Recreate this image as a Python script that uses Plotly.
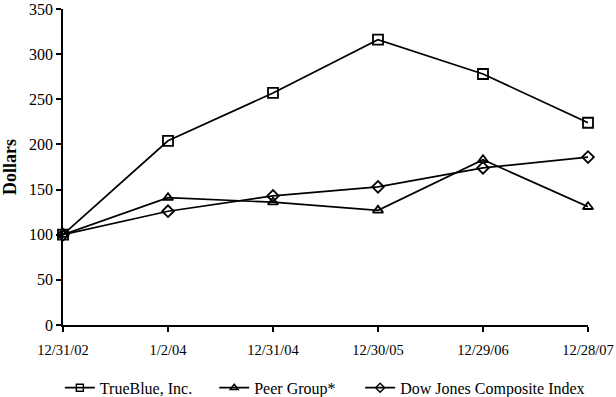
import plotly.graph_objects as go

dates = ["12/31/02", "1/2/04", "12/31/04", "12/30/05", "12/29/06", "12/28/07"]
trueblue = [100, 204, 257, 316, 278, 224]
peer = [100, 141, 136, 127, 183, 131]
dowjones = [100, 126, 143, 153, 174, 186]
yticks = [0, 50, 100, 150, 200, 250, 300, 350]

xs = list(range(len(dates)))
fam = "Liberation Serif, Times New Roman, serif"
font = dict(family=fam, color="black", size=14)

fig = go.Figure()
series = [
    ("TrueBlue, Inc.", trueblue, "square-open", 10, "legend"),
    ("Peer Group*", peer, "triangle-up-open", 9, "legend2"),
    ("Dow Jones Composite Index", dowjones, "diamond-open", 9, "legend3"),
]
for name, vals, sym, sz, lg in series:
    fig.add_trace(go.Scatter(
        x=xs, y=vals, name=name, mode="lines+markers", showlegend=False,
        line=dict(color="black", width=1.7),
        marker=dict(symbol=sym, size=sz, color="black", line=dict(width=1.8, color="black")),
        cliponaxis=False, hoverinfo="skip",
    ))
# legend entries with smaller symbols, each in its own positioned legend
for name, vals, sym, sz, lg in series:
    fig.add_trace(go.Scatter(
        x=[None], y=[None], name=name, mode="lines+markers", showlegend=True, legend=lg,
        line=dict(color="black", width=1.7),
        marker=dict(symbol=sym, size=7, color="black", line=dict(width=1.4, color="black")),
    ))

leg_common = dict(orientation="h", xanchor="left", y=-0.145, yanchor="top",
                  font=dict(size=16, family=fam, color="black"),
                  itemwidth=30, bgcolor="rgba(0,0,0,0)")
fig.update_layout(
    width=616, height=397,
    margin=dict(l=63, r=28, t=9, b=72, autoexpand=False),
    paper_bgcolor="white", plot_bgcolor="white",
    font=font,
    showlegend=True,
    hovermode=False,
    legend=dict(x=-0.006, **leg_common),
    legend2=dict(x=0.288, **leg_common),
    legend3=dict(x=0.566, **leg_common),
)
fig.update_xaxes(
    range=[0, 5], tickvals=xs, ticktext=dates, automargin=False,
    showline=True, linecolor="black", linewidth=1.7,
    ticks="outside", ticklen=5, tickwidth=1.5, tickcolor="black",
    ticklabelstandoff=6,
    showgrid=False, zeroline=False, fixedrange=True,
    tickfont=dict(size=14.5, family=fam, color="black"),
)
fig.update_yaxes(
    range=[0, 350], tickvals=yticks, automargin=False,
    showline=True, linecolor="black", linewidth=1.7,
    ticks="outside", ticklen=5, tickwidth=1.5, tickcolor="black",
    showgrid=False, zeroline=False, fixedrange=True,
    tickfont=dict(size=16, family=fam, color="black"),
    title=dict(text="<b>Dollars</b>", font=dict(size=18, family=fam, color="black"), standoff=8),
)

fig.write_html("out.html", config={"displayModeBar": False, "staticPlot": False},
               post_script="document.body.style.margin='0';")
